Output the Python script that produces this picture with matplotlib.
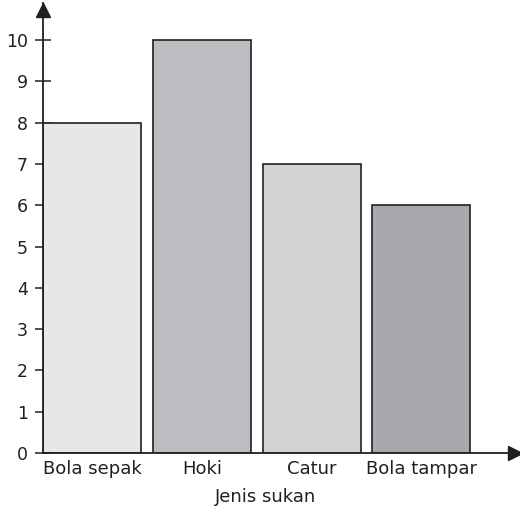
import matplotlib
matplotlib.use("Agg")
import matplotlib.pyplot as plt

categories = ["Bola sepak", "Hoki", "Catur", "Bola tampar"]
values = [8, 10, 7, 6]
colors = ["#e6e7e8", "#bcbdc0", "#d1d3d4", "#a7a9ac"]
yticks = list(range(0, 11))
xlabel = "Jenis sukan"

plt.rcParams['font.family'] = ['DejaVu Sans']
ink = "#231f20"

fig = plt.figure(figsize=(5.2, 5.15), dpi=100)
ax = fig.add_axes([43/520, 62/515, 1 - 43/520, (453-3)/515])

x = list(range(len(categories)))
ax.bar(x, values, width=0.893, color=colors, edgecolor=ink, linewidth=1.2, zorder=2)

ax.set_xlim(-0.447, 3.90)
ax.set_ylim(0, 450/41.3)

for s in ["top", "right"]:
    ax.spines[s].set_visible(False)
for s in ["left", "bottom"]:
    ax.spines[s].set_linewidth(1.3)
    ax.spines[s].set_color(ink)
    ax.spines[s].set_zorder(3)

ax.set_yticks(yticks)
ax.set_yticklabels([str(v) for v in yticks], fontsize=12.5, color=ink)
ax.tick_params(axis="y", direction="inout", length=12, width=1.1, color=ink, pad=5)
ax.set_xticks(x)
ax.set_xticklabels(categories, fontsize=13, color=ink)
ax.tick_params(axis="x", length=0, pad=5)
fig.text(266/520, 1 - 497/515, xlabel, fontsize=13, color=ink,
         ha="center", va="center")

# arrow heads
ax.plot([-0.447], [(453-10)/41.3], marker="^", markersize=10, color=ink, clip_on=False, zorder=4)
ax.plot([3.851], [0], marker=">", markersize=10, color=ink, clip_on=False, zorder=4)

fig.savefig("out.png", dpi=100)
